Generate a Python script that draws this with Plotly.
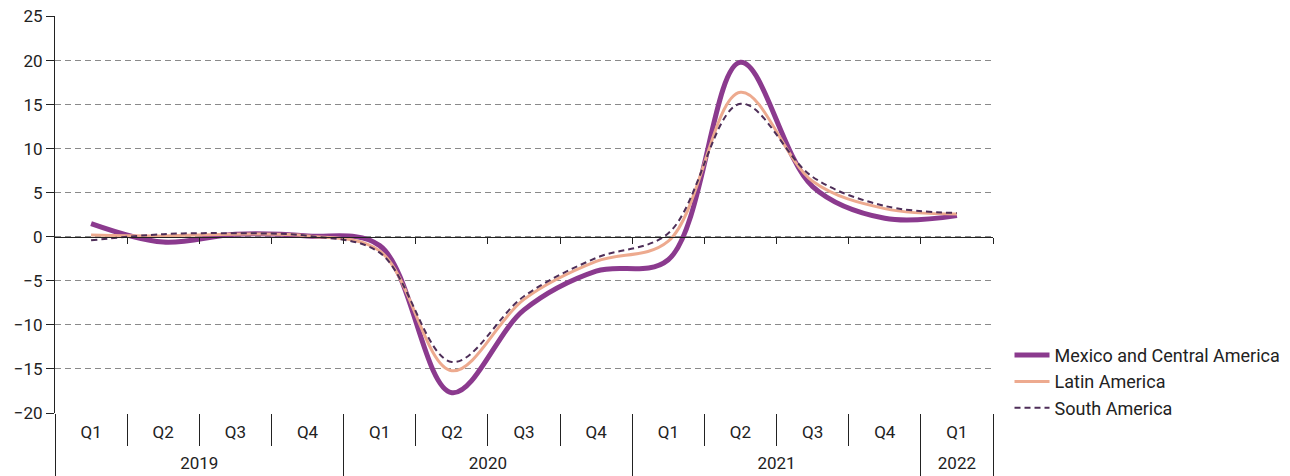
import plotly.graph_objects as go

years = ["2019"] * 4 + ["2020"] * 4 + ["2021"] * 4 + ["2022"]
quarters = ["Q1", "Q2", "Q3", "Q4"] * 3 + ["Q1"]
year_labels = ["2019", "2020", "2021", "2022"]

mexico_ca = [1.5, -0.6, 0.3, 0.1, -1.0, -17.7, -8.3, -3.9, -2.6, 19.8, 5.7, 2.1, 2.4]
latin_america = [0.2, 0.1, 0.3, 0.1, -1.6, -15.2, -7.1, -2.8, -0.5, 16.4, 6.3, 3.2, 2.6]
south_america = [-0.4, 0.3, 0.4, 0.1, -1.8, -14.2, -6.75, -2.4, 0.4, 15.1, 6.8, 3.5, 2.7]

FONT = "Roboto, sans-serif"
FS = 17
INK = "#222222"

n = len(quarters)
xi = list(range(n))
xr = [-0.5, n - 0.5]

# year centres and boundaries derived from the category lists
year_centres = [sum(i for i in xi if years[i] == y) / years.count(y) for y in year_labels]
year_bounds = [-0.5] + [i + 0.5 for i in range(n - 1) if years[i] != years[i + 1]] + [n - 0.5]
quarter_bounds = [i + 0.5 for i in range(n - 1) if years[i] == years[i + 1]]

fig = go.Figure()
fig.add_trace(go.Scatter(x=xi, y=mexico_ca, name="Mexico and Central America",
                         mode="lines", line=dict(color="#8B3A8E", width=5, shape="spline", smoothing=1)))
fig.add_trace(go.Scatter(x=xi, y=latin_america, name="Latin America",
                         mode="lines", line=dict(color="#EDAA8F", width=3, shape="spline", smoothing=1)))
fig.add_trace(go.Scatter(x=xi, y=south_america, name="South America",
                         mode="lines", line=dict(color="#4E2E58", width=2, dash="6px,4px",
                                                 shape="spline", smoothing=1)))
# helper traces for the overlay axes
for ax in ["x2", "x3", "x4", "x5"]:
    fig.add_trace(go.Scatter(x=[None], y=[None], xaxis=ax, showlegend=False, hoverinfo="skip"))

ymin, ymax = -20, 25
yr = [ymin, ymax + 0.06]
common = dict(range=xr, showgrid=False, zeroline=False, automargin=False, showline=False)
fig.update_layout(
    template="none",
    width=1290, height=476,
    margin=dict(l=55, r=297, t=16, b=63, autoexpand=False),
    paper_bgcolor="white", plot_bgcolor="white",
    font=dict(family=FONT, size=FS, color=INK),
    showlegend=True,
    legend=dict(x=1.0176, y=0.192, xanchor="left", yanchor="top",
                font=dict(family=FONT, size=FS + 1, color=INK),
                tracegroupgap=0, itemwidth=35, bgcolor="rgba(0,0,0,0)", borderwidth=0),
    # quarter labels
    xaxis=dict(**common, tickvals=xi, ticktext=quarters, ticks="", ticklabelstandoff=7,
               tickfont=dict(family=FONT, size=FS, color=INK)),
    # zero axis line with small ticks
    xaxis2=dict(overlaying="x", anchor="free", position=(0 - yr[0]) / (yr[1] - yr[0]), side="bottom",
                range=xr, tickvals=[i + 0.5 for i in range(n)], ticks="outside",
                ticklen=6, tickcolor=INK, showticklabels=False, showline=True,
                linecolor=INK, linewidth=1, showgrid=False, zeroline=False, automargin=False),
    # quarter separators
    xaxis3=dict(**common, overlaying="x", anchor="y", side="bottom", tickvals=quarter_bounds,
                ticks="outside", ticklen=32, tickcolor=INK, showticklabels=False),
    # year separators
    xaxis4=dict(**common, overlaying="x", anchor="y", side="bottom", tickvals=year_bounds,
                ticks="outside", ticklen=63, tickcolor=INK, showticklabels=False),
    # year labels
    xaxis5=dict(**common, overlaying="x", anchor="y", side="bottom", tickvals=year_centres,
                ticktext=year_labels, ticks="", ticklabelstandoff=38,
                tickfont=dict(family=FONT, size=FS, color=INK)),
    yaxis=dict(range=yr, tickvals=list(range(ymin, ymax + 1, 5)), automargin=False,
               showgrid=True, gridcolor="#8a8a8a", ticklabeloverflow="allow",
               griddash="6px,4px", gridwidth=1, zeroline=False, showline=True, linecolor=INK,
               ticks="outside", ticklen=8, tickcolor=INK,
               tickfont=dict(family=FONT, size=FS, color=INK)),
)

fig.write_html("out.html", config={"displayModeBar": False},
               post_script="document.body.style.margin='0';document.body.style.overflow='hidden';")
